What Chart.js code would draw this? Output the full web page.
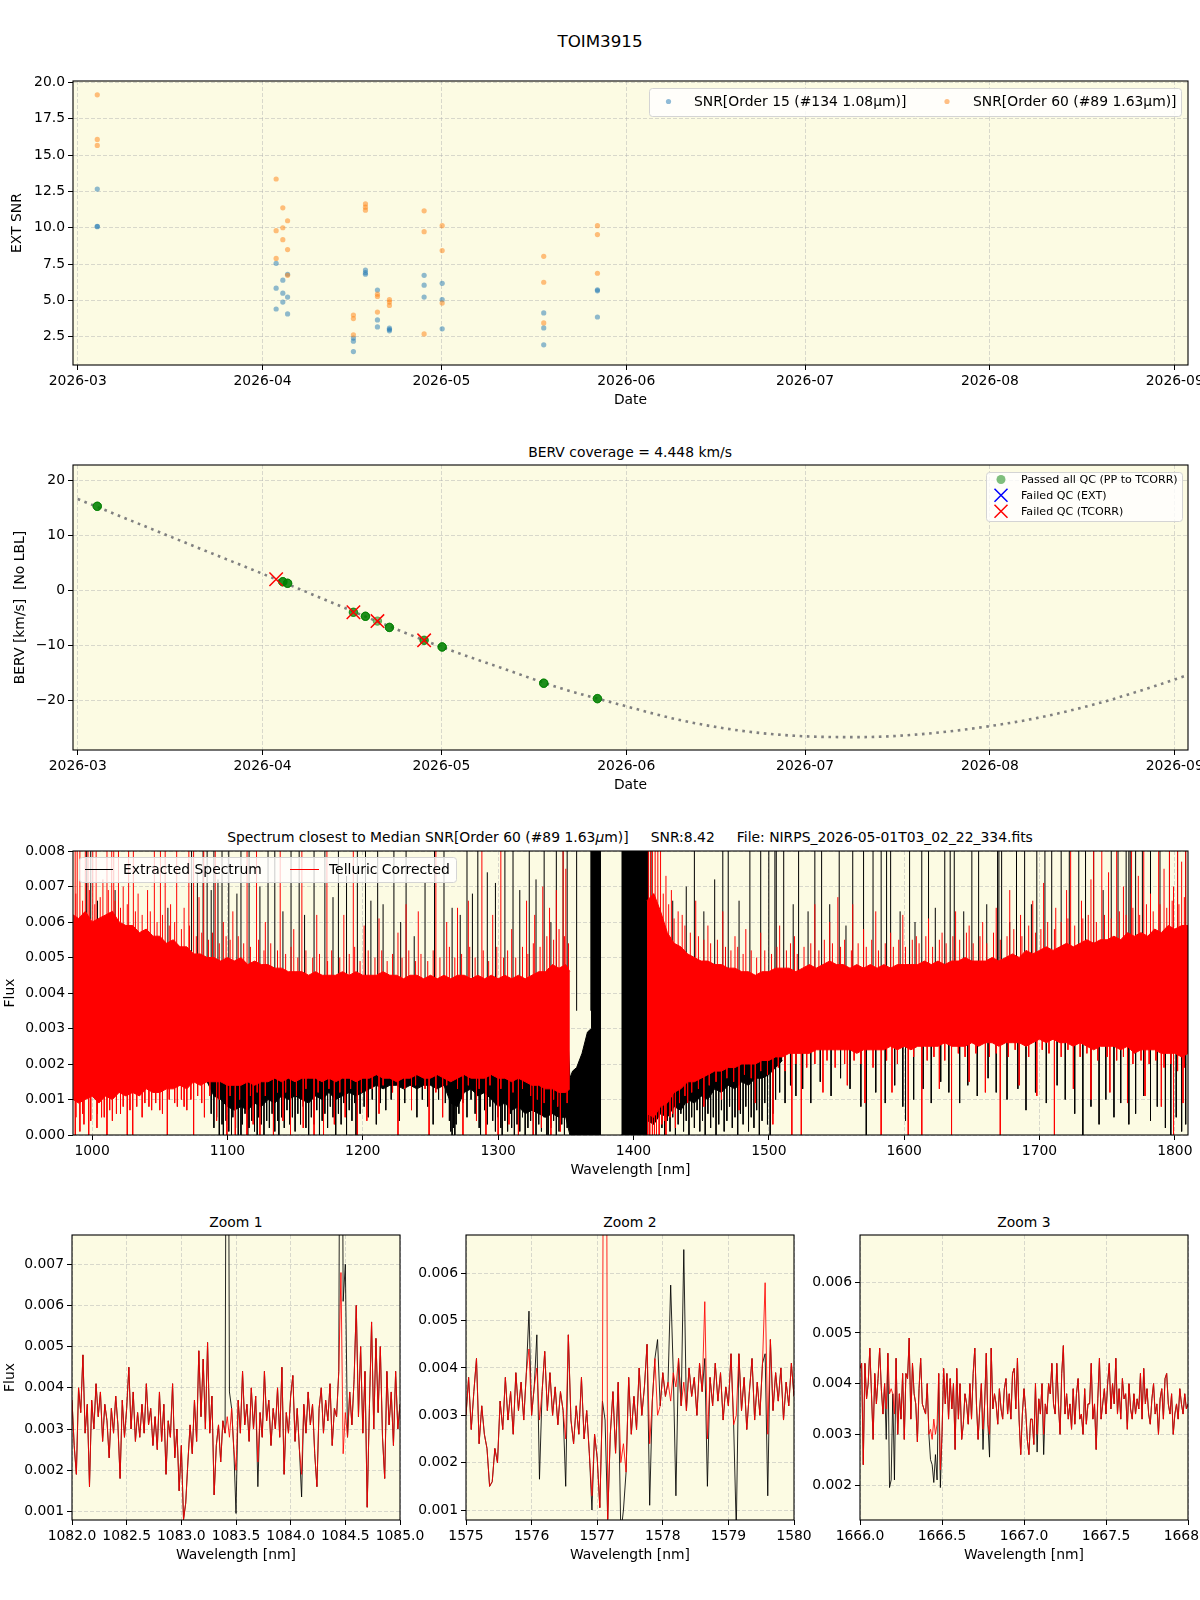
<!DOCTYPE html>
<html lang="en">
<head>
    <meta charset="UTF-8">
    <title>TOIM3915</title>
    <script src="https://cdn.jsdelivr.net/npm/chart.js"></script>
    <style>
        body { margin: 0; background: #ffffff; font-family: 'DejaVu Sans', sans-serif; }
        #page { position: relative; width: 1200px; height: 1600px; overflow: hidden; }
        #page canvas { position: absolute; }
        .label { position: absolute; transform: translate(-50%, -50%); white-space: pre; font-size: 13.9px; color: #000; }
    </style>
</head>
<body>
<div id="page">
    <div class="label" style="left:600px; top:41px; font-size:16.7px;">TOIM3915</div>
    <div class="label" style="left:630px; top:452px;">BERV coverage = 4.448 km/s</div>
    <div class="label" style="left:630px; top:837px;">Spectrum closest to Median SNR[Order 60 (#89 1.63<i>μ</i>m)]     SNR:8.42     File: NIRPS_2026-05-01T03_02_22_334.fits</div>
    <div class="label" style="left:236px; top:1222px;">Zoom 1</div>
    <div class="label" style="left:630px; top:1222px;">Zoom 2</div>
    <div class="label" style="left:1024px; top:1222px;">Zoom 3</div>
</div>

<script>
    // ---- observation nights (3 exposures each) ----
    const monthTicks = ['2026-03', '2026-04', '2026-05', '2026-06', '2026-07', '2026-08', '2026-09'];
    const dateRange = ['2026-02-28T05:00', '2026-09-03T05:15'];

    const nightDates = ['2026-03-04T06:43', '2026-04-03T06:43', '2026-04-04T09:36', '2026-04-05T04:48',
        '2026-04-16T05:46', '2026-04-18T06:14', '2026-04-20T06:29', '2026-04-22T06:43',
        '2026-04-28T02:24', '2026-05-01T03:02', '2026-05-18T03:50', '2026-05-27T04:00'];
    const snrOrder15 = [[12.66, 10.07, 10.1], [7.55, 5.84, 4.41], [6.39, 5.5, 4.89], [6.8, 5.23, 4.07],
        [2.41, 2.2, 1.48], [7.09, 6.91, 6.8], [5.71, 3.66, 3.18], [3.09, 3.0, 2.91],
        [6.73, 6.05, 5.23], [6.18, 5.05, 3.05], [4.14, 3.11, 1.95], [5.73, 5.66, 3.86]];
    const snrOrder60 = [[19.14, 16.07, 15.66], [13.35, 9.8, 7.89], [11.37, 10.0, 9.18], [10.48, 8.5, 6.73],
        [4.0, 3.75, 2.64], [11.64, 11.41, 11.21], [5.43, 5.27, 4.2], [5.05, 4.89, 4.66],
        [11.16, 9.73, 2.7], [10.14, 8.43, 4.82], [8.03, 6.25, 3.45], [10.14, 9.53, 6.87]];
    const bervNight = [15.27, 2.0, 1.56, 1.27, -4.0, -4.73, -5.6, -6.75, -9.1, -10.3, -16.9, -19.7];
    const passedPerNight = [3, 0, 3, 3, 2, 3, 1, 3, 2, 3, 3, 3];
    const tcorrFailedNight = [0, 1, 0, 0, 1, 0, 1, 0, 1, 0, 0, 0];

    const bervCurveDates = ['2026-03-01', '2026-03-11', '2026-03-21', '2026-04-01', '2026-04-11', '2026-04-21',
        '2026-05-01', '2026-05-11', '2026-05-21', '2026-05-31', '2026-06-10', '2026-06-20', '2026-06-30',
        '2026-07-10', '2026-07-20', '2026-07-30', '2026-08-09', '2026-08-19', '2026-08-29', '2026-09-04'];
    const bervCurveValues = [16.6, 12.2, 7.8, 3.0, -1.5, -6.0, -10.3, -14.1, -17.8, -20.8, -23.6, -25.5, -26.5,
        -26.7, -26.2, -25.0, -23.2, -20.6, -17.3, -15.1];

    const snrYTicks = [2.5, 5, 7.5, 10, 12.5, 15, 17.5, 20];
    const bervYTicks = [-20, -10, 0, 10, 20];

    // ---- full spectrum, flux in units of 1e-3 ----
    const specXTicks = [1000, 1100, 1200, 1300, 1400, 1500, 1600, 1700, 1800];
    const specYTicks = [0, 1, 2, 3, 4, 5, 6, 7, 8];

    // [wavelength, lower edge, upper edge] of the dense telluric-corrected band
    const redBand = [[986,1.0,6.2],[990,0.9,6.1],[995,1.0,6.3],[1000,1.1,6.0],[1005,0.9,6.1],[1010,1.1,6.2],
        [1015,1.0,6.3],[1020,1.2,6.0],[1025,1.1,5.9],[1030,1.2,5.9],[1035,1.1,5.7],[1040,1.3,5.8],[1045,1.2,5.6],
        [1050,1.2,5.6],[1055,1.3,5.4],[1060,1.3,5.5],[1065,1.4,5.3],[1070,1.3,5.3],[1075,1.5,5.1],[1080,1.4,5.1],
        [1085,1.5,5.0],[1090,1.5,5.0],[1095,1.5,4.9],[1100,1.4,5.0],[1105,1.4,4.9],[1110,1.4,5.0],[1115,1.5,4.8],
        [1120,1.4,4.9],[1125,1.5,4.8],[1130,1.5,4.8],[1135,1.6,4.7],[1140,1.5,4.7],[1145,1.6,4.6],[1150,1.5,4.6],
        [1155,1.6,4.6],[1160,1.6,4.5],[1165,1.6,4.6],[1170,1.5,4.5],[1175,1.6,4.5],[1180,1.5,4.5],[1185,1.6,4.6],
        [1190,1.6,4.5],[1195,1.5,4.6],[1200,1.6,4.5],[1205,1.6,4.5],[1210,1.7,4.5],[1215,1.6,4.6],[1220,1.6,4.5],
        [1225,1.5,4.5],[1230,1.6,4.4],[1235,1.6,4.5],[1240,1.7,4.5],[1245,1.6,4.4],[1250,1.6,4.5],[1255,1.7,4.4],
        [1260,1.6,4.5],[1265,1.5,4.4],[1270,1.6,4.5],[1275,1.7,4.5],[1280,1.6,4.4],[1285,1.6,4.5],[1290,1.6,4.4],
        [1295,1.7,4.5],[1300,1.6,4.4],[1305,1.6,4.5],[1310,1.5,4.4],[1315,1.6,4.5],[1320,1.5,4.4],[1325,1.4,4.5],
        [1330,1.4,4.6],[1335,1.3,4.6],[1340,1.3,4.8],[1345,1.2,4.7],[1350,1.2,4.8],[1353,1.3,4.6],
        [1380,null,null],
        [1410,0.6,6.6],[1415,0.5,6.8],[1420,0.8,6.3],[1425,0.9,5.7],[1430,1.2,5.4],[1435,1.3,5.3],[1440,1.5,5.1],
        [1445,1.5,5.0],[1450,1.6,4.9],[1455,1.7,4.9],[1460,1.8,4.8],[1465,1.8,4.8],[1470,1.9,4.7],[1475,1.9,4.7],
        [1480,2.0,4.6],[1485,2.0,4.6],[1490,2.0,4.5],[1495,2.1,4.6],[1500,2.1,4.6],[1505,2.2,4.7],[1510,2.2,4.7],
        [1515,2.3,4.7],[1520,2.3,4.6],[1525,2.3,4.7],[1530,2.3,4.8],[1535,2.4,4.7],[1540,2.4,4.8],[1545,2.4,4.9],
        [1550,2.4,4.8],[1555,2.4,4.8],[1560,2.4,4.7],[1565,2.3,4.8],[1570,2.4,4.7],[1575,2.4,4.8],[1580,2.4,4.7],
        [1585,2.4,4.8],[1590,2.5,4.7],[1595,2.4,4.8],[1600,2.5,4.8],[1605,2.4,4.8],[1610,2.5,4.8],[1615,2.5,4.9],
        [1620,2.5,4.8],[1625,2.5,4.9],[1630,2.6,4.8],[1635,2.5,4.9],[1640,2.5,4.9],[1645,2.5,5.0],[1650,2.6,4.9],
        [1655,2.5,4.9],[1660,2.6,4.9],[1665,2.6,5.0],[1670,2.5,4.9],[1675,2.6,5.0],[1680,2.6,5.1],[1685,2.6,5.0],
        [1690,2.5,5.2],[1695,2.6,5.1],[1700,2.7,5.2],[1705,2.6,5.3],[1710,2.7,5.2],[1715,2.6,5.3],[1720,2.6,5.4],
        [1725,2.5,5.3],[1730,2.6,5.4],[1735,2.5,5.5],[1740,2.4,5.4],[1745,2.5,5.5],[1750,2.5,5.5],[1755,2.5,5.6],
        [1760,2.4,5.5],[1765,2.5,5.7],[1770,2.3,5.6],[1775,2.4,5.7],[1780,2.4,5.6],[1785,2.4,5.8],[1790,2.3,5.7],
        [1795,2.3,5.9],[1800,2.3,5.8],[1805,2.2,5.9],[1810,2.3,5.9]];

    // [wavelength, lower edge, upper edge] of the extracted spectrum where it leaves the red band
    const blackBand = [[1085,1.5,4.0],[1090,1.1,4.0],[1095,1.0,4.0],[1100,0.8,4.0],[1105,0.7,4.0],[1110,0.8,4.0],
        [1115,0.7,4.0],[1120,0.9,4.0],[1125,0.8,4.0],[1130,1.0,4.0],[1135,0.9,4.0],[1140,1.1,4.0],[1145,1.0,4.0],
        [1150,1.1,4.0],[1155,1.0,4.0],[1160,0.9,4.0],[1165,1.1,4.0],[1170,1.0,4.0],[1175,1.2,4.0],[1180,1.0,4.0],
        [1185,1.1,4.0],[1190,1.2,4.0],[1195,1.1,4.0],[1200,1.2,4.0],[1205,1.3,4.0],[1210,1.4,4.0],[1215,1.3,4.0],
        [1220,1.4,4.0],[1225,1.4,4.0],[1230,1.3,4.0],[1235,1.4,4.0],[1240,1.3,4.0],[1245,1.4,4.0],[1250,1.4,4.0],
        [1255,1.3,4.0],[1260,1.4,4.0],[1265,0.9,4.0],[1270,0.8,4.0],[1275,1.2,4.0],[1280,1.3,4.0],[1285,1.1,4.0],
        [1290,1.2,4.0],[1295,1.0,4.0],[1300,0.8,4.0],[1305,0.9,4.0],[1310,0.7,4.0],[1315,0.8,4.0],[1320,0.6,4.0],
        [1325,0.7,4.0],[1330,0.6,4.0],[1335,0.5,4.0],[1340,0.6,4.0],[1345,0.5,4.0],[1350,0.5,4.0],
        [1353,0.0,1.6],[1355,0.0,1.8],[1358,0.0,1.9],[1362,0.0,2.3],[1366,0.0,2.9],[1368.9,0.0,3.0],
        [1369,0,9],[1376,0,9],
        [1383,null,null],
        [1391,0,9],[1405,0,9],[1410,0,9],[1410.5,0.4,4.0],[1415,0.3,4.0],[1420,0.6,4.0],[1425,0.5,4.0],
        [1430,0.8,4.0],[1435,0.7,4.0],[1440,1.0,4.0],[1445,0.9,4.0],[1450,1.1,4.0],[1455,1.0,4.0],[1460,1.3,4.0],
        [1465,1.2,4.0],[1470,1.4,4.0],[1475,1.3,4.0],[1480,1.5,4.0],[1485,1.4,4.0],[1490,1.6,4.0],[1495,1.6,4.0],
        [1500,1.7,4.0],[1505,1.9,4.0],[1510,2.1,4.0]];

    // single lines sticking out of the bands: [wavelength, end flux]
    const blackUp = [[996,9],[999,9],[1004,6.6],[1017,6.9],[1056,6.4],[1073.5,9],[1077.8,7.4],[1082,9],[1085,9],
        [1088,6.9],[1090,9],[1093,7.2],[1096,9],[1101,9],[1107,6.8],[1110,9],[1116,9],[1124,7.0],[1130,9],[1135,9],
        [1141,6.3],[1147,9],[1153,9],[1157,6.2],[1164,9],[1172,9],[1178,6.7],[1182,9],[1188,7.3],[1196,9],[1202,9],
        [1206,6.6],[1211,9],[1215,6.5],[1223,9],[1228,6.0],[1232,9],[1238,5.6],[1246,7.1],[1253,9],[1260,9],
        [1266,6.4],[1272,6.2],[1277,9],[1281,6.8],[1285,9],[1292,7.4],[1298,7.1],[1305,9],[1311,9],[1316,6.9],
        [1323,9],[1328,7.2],[1334,9],[1339,6.0],[1343,9],[1348,9],[1351,9],[1358,9],[1368.5,9],
        [1411,9],[1413,9],[1429,6.6],[1439,7.0],[1445,9],[1452,6.3],[1460,7.2],[1466,9],[1470,9],[1478,6.6],
        [1486,9],[1494,9],[1500,9],[1504.5,9],[1505.5,9],[1511,9],[1518,6.5],[1522,9],[1529,6.3],[1534,9],
        [1539,9],[1545,6.5],[1552,9],[1557,5.9],[1562,9],[1570,9],[1577,9],[1583,9],[1587,9],[1590,9],[1597,6.3],
        [1604,9],[1608,6.0],[1613,9],[1618,9],[1623,6.4],[1630,9],[1634,9],[1637,9],[1644,6.3],[1650,9],[1655,9],
        [1661,6.5],[1669,9],[1670,9],[1672,9],[1678,6.0],[1683,9],[1689,9],[1694,6.5],[1698,9],[1704,9],[1709,9],
        [1716,9],[1722,9],[1729,9],[1734,9],[1740,9],[1747,6.9],[1753,9],[1758,9],[1764,9],[1766,9],[1767,9],
        [1771,9],[1776,9],[1782,9],[1789,9],[1796,9],[1802,9],[1808,9]];
    const blackDown = [[1088,0.6],[1090,0.2],[1092,0.5],[1094,0.0],[1096,0.3],[1097,0],[1099,0.4],[1101,0.1],
        [1103,0],[1104,0.5],[1106,0.2],[1108,0.0],[1110,0],[1111,0.3],[1113,0.6],[1115,0],[1116,0.2],[1118,0.4],
        [1120,0.1],[1122,0],[1123,0.5],[1125,0.3],[1127,0.0],[1129,0.4],[1131,0.2],[1133,0.6],[1135,0.1],
        [1137,0.4],[1138,0],[1140,0.5],[1142,0.2],[1144,0.7],[1146,0.3],[1148,0.5],[1150,0.1],[1152,0.6],
        [1154,0.3],[1156,0.8],[1158,0.2],[1160,0],[1162,0.5],[1164,0.3],[1166,0.7],[1168,0],[1170,0.4],
        [1172,0.6],[1174,0.2],[1176,0.8],[1178,0.5],[1180,0],[1182,0.6],[1184,0.3],[1186,0.9],[1188,0],
        [1190,0.7],[1192,0.4],[1194,0.9],[1195,0],[1198,0.6],[1201,0.8],[1204,0.5],[1207,1.0],[1210,0.3],
        [1213,0.9],[1217,0.7],[1221,1.0],[1227,0.4],[1231,0.9],[1236,1.1],[1240,0.5],[1244,1.0],[1248,0.8],
        [1252,0.3],[1256,1.0],[1261,0.9],[1264,0.4],[1265,0.1],[1266,0],[1267,0.2],[1268,0],[1269,0.3],
        [1271,0.6],[1274,0.9],[1277,0.5],[1280,1.0],[1283,0.6],[1286,0.2],[1287,0],[1290,0.7],[1292,0.3],
        [1294,0.8],[1296,0.4],[1298,0.1],[1300,0.5],[1302,0.2],[1303,0],[1305,0.4],[1307,0.1],[1309,0.6],
        [1310,0.2],[1312,0],[1314,0.3],[1316,0.1],[1318,0.5],[1320,0],[1322,0.2],[1324,0.4],[1326,0.0],
        [1328,0],[1330,0.3],[1332,0.1],[1334,0.5],[1336,0.0],[1337,0],[1339,0.2],[1341,0.4],[1343,0],
        [1345,0.1],[1347,0.3],[1349,0],[1351,0.2],
        [1421,0.2],[1423,0],[1425,0.4],[1427,0.1],[1429,0.5],[1431,0],[1433,0.3],[1435,0.6],[1437,0.1],
        [1439,0.4],[1441,0],[1443,0.5],[1445,0.2],[1447,0.7],[1449,0.1],[1451,0.4],[1453,0],[1455,0.6],
        [1457,0.2],[1459,0.5],[1461,0],[1463,0.3],[1465,0.7],[1467,0.1],[1469,0.4],[1471,0.8],[1473,0.2],
        [1475,0.5],[1477,0],[1479,0.6],[1481,0.3],[1483,0.8],[1485,0.1],[1487,0.5],[1489,0.2],[1491,0.7],
        [1493,0.0],[1495,0.4],[1497,0.9],[1499,0.3],[1501,0],[1503,0.6],[1505,1.0],[1508,1.2],[1512,0.9],
        [1516,1.4],[1520,1.1],
        [1525,1.3],[1531,0.9],[1538,1.5],[1546,1.1],[1553,1.6],[1560,1.3],[1568,0.8],[1572,0.0],[1579,1.2],
        [1586,0.9],[1593,1.4],[1599,0.8],[1601,0.4],[1607,1.0],[1614,1.3],[1620,0.9],[1627,1.5],[1633,1.2],
        [1641,0.9],[1647,1.4],[1654,1.1],[1662,1.6],[1668,1.2],[1676,1.0],[1684,1.3],[1690,0.7],[1697,1.2],
        [1705,0.9],[1713,1.4],[1719,1.0],[1726,0.6],[1732,0.0],[1738,0.8],[1744,0.3],[1749,1.0],[1755,0.5],
        [1760,0.9],[1766,0.3],[1771,0.6],[1777,1.1],[1782,0.4],[1787,0.8],[1793,0.2],[1797,0.0],[1801,0.5],
        [1805,0.1],[1808,0.3]];
    const redUp = [[987.5,9],[989,9],[991,9],[995,9],[997,9],[1000.5,9],[1003,9],[1008,7.2],[1011,9],[1014.5,9],
        [1016,9],[1019.5,9],[1023,7.0],[1027,9],[1030.5,9],[1034,6.8],[1041,6.9],[1046,9],[1050.5,9],[1054,9],
        [1058,6.5],[1062.5,9],[1068,6.4],[1071.5,9],[1075,9],[1079,6.7],[1082.5,9],[1091,9],[1097,6.0],[1104,6.3],
        [1114.5,9],[1121.5,9],[1128,6.0],[1139,9],[1149,5.8],[1155,9],[1166,6.2],[1173.5,9],[1186,6.2],[1193,9],
        [1201,5.9],[1212,6.1],[1226,5.7],[1232,6.5],[1241,6.3],[1254,9],[1262,6.0],[1270,6.4],[1278,6.6],[1288,9],
        [1296,6.2],[1302,9],[1310,5.8],[1321,6.6],[1327,6.2],[1333,7.0],[1338,6.4],[1343,6.9],[1348,9],[1350,7.5],
        [1411,9],[1412.5,9],[1414,9],[1416,9],[1418,9],[1420,9],[1424,7.3],[1428,6.9],[1436,6.2],[1446,6.6],
        [1455,5.9],[1466,6.3],[1475,5.6],[1483,5.8],[1494,5.7],[1508,5.9],[1519,5.6],[1534,6.5],[1545,6.0],
        [1551,6.7],[1562,6.5],[1570,5.8],[1579,6.3],[1590,5.7],[1599,6.2],[1609,5.6],[1618,6.1],[1628,5.7],
        [1638,6.3],[1648,5.9],[1658,6.0],[1668,6.4],[1678,6.9],[1686,6.2],[1695,6.6],[1703,7.1],[1712,6.4],
        [1720,6.9],[1723,9],[1731,6.6],[1738,7.2],[1740,9],[1746,9],[1751,7.4],[1757,9],[1762,7.0],[1768,9],
        [1773,7.3],[1777,9],[1782,6.8],[1788,9],[1792,7.5],[1796,9],[1799,7.0],[1802,9],[1805,7.7],[1808,9]];
    const redDown = [[987.6,0],[991,0.1],[994,0.3],[997.5,0],[1003.6,0.2],[1007,0.5],[1011,0],[1015,0.4],
        [1021,0.6],[1026,0],[1030,0],[1037,0.5],[1044,0.7],[1052,0.6],[1055.6,0],[1063,0.8],[1070,0.7],[1075,0],
        [1083,0.5],[1092,0.4],[1099.6,0],[1105.8,0],[1114.4,0],[1119,0.3],[1124,0],[1134,0],[1141,0.4],[1146.6,0],
        [1156,0.2],[1164,0],[1171,0],[1179,0.3],[1187,0.5],[1196,0],[1203,0.4],[1212,0.6],[1226,0],[1236,0.7],
        [1249,0],[1259,0.5],[1274,0],[1284,0.4],[1291,0],[1300,0],[1308,0.3],[1315,0],[1326,0],[1332,0.2],
        [1339,0],[1346,0.1],
        [1410.5,0],[1412,0],[1414,0],[1415.5,0],[1417,0],[1419,0],[1421,0.3],[1424,0],[1427,0.5],[1431,0.2],
        [1440,0.9],[1452,0.8],[1465,1.0],[1478,0.7],[1490,0.9],[1503,0.3],[1517,0],[1524,0],[1540,1.2],
        [1558,1.4],[1571,0.9],[1583,0],[1591,1.2],[1603,0],[1613,0],[1626,1.3],[1635,0],[1648,1.5],[1660,1.2],
        [1671,0],[1685,1.4],[1698,1.1],[1711,0],[1725,1.3],[1738,1.0],[1752,1.2],[1765,0.9],[1778,1.1],
        [1790,0.8],[1799,0],[1806,0.9]];
    // short hairs on the edges of the red band
    const redFringeUp = [[988,6.8],[993,6.6],[998,6.9],[1002,6.5],[1006,6.7],[1012,6.9],[1017,6.6],[1021,6.4],
        [1026,6.5],[1032,6.3],[1037,6.2],[1043,6.3],[1048,6.0],[1052,6.2],[1057,5.9],[1061,6.0],[1066,5.8],
        [1072,5.9],[1077,5.6],[1081,5.7],[1086,5.5],[1089,5.7],[1094,5.4],[1099,5.6],[1102,5.5],[1108,5.6],
        [1112,5.4],[1117,5.3],[1123,5.5],[1127,5.2],[1132,5.4],[1137,5.2],[1143,5.1],[1147,5.3],[1152,5.0],
        [1158,5.2],[1163,5.0],[1168,5.1],[1174,4.9],[1177,5.2],[1183,5.0],[1190,5.1],[1194,5.3],[1198,4.9],
        [1204,5.2],[1209,5.0],[1214,5.2],[1218,4.9],[1222,5.1],[1229,5.0],[1234,5.2],[1239,4.9],[1243,5.1],
        [1248,4.9],[1252,5.2],[1257,5.0],[1264,5.3],[1268,5.0],[1273,5.1],[1279,5.3],[1283,5.0],[1289,5.2],
        [1293,4.9],[1299,5.3],[1304,5.0],[1307,5.2],[1313,5.0],[1318,5.3],[1322,5.1],[1326,5.4],[1331,5.3],
        [1336,5.6],[1341,5.5],[1345,5.8],[1349,5.6],[1352,5.4],
        [1422,6.8],[1426,6.5],[1430,6.1],[1433,6.3],[1438,5.9],[1442,5.7],[1448,5.6],[1452,5.5],[1457,5.4],
        [1462,5.5],[1468,5.3],[1472,5.2],[1477,5.3],[1481,5.1],[1487,5.2],[1491,5.0],[1497,5.2],[1502,5.1],
        [1506,5.3],[1513,5.2],[1516,5.4],[1521,5.1],[1526,5.3],[1531,5.4],[1537,5.2],[1541,5.5],[1547,5.4],
        [1553,5.3],[1556,5.5],[1561,5.2],[1566,5.4],[1572,5.3],[1576,5.5],[1581,5.2],[1586,5.4],[1592,5.3],
        [1596,5.5],[1601,5.3],[1606,5.5],[1611,5.4],[1616,5.6],[1621,5.3],[1626,5.5],[1631,5.4],[1636,5.6],
        [1641,5.5],[1646,5.7],[1651,5.4],[1656,5.6],[1661,5.4],[1666,5.7],[1671,5.5],[1676,5.6],[1681,5.8],
        [1687,5.6],[1692,5.9],[1697,5.7],[1701,5.8],[1706,6.0],[1711,5.8],[1716,6.0],[1721,6.1],[1726,5.9],
        [1732,6.1],[1736,6.2],[1742,6.0],[1748,6.2],[1753,6.1],[1759,6.3],[1764,6.2],[1769,6.4],[1774,6.2],
        [1779,6.5],[1784,6.3],[1789,6.5],[1794,6.4],[1798,6.6],[1803,6.5],[1807,6.7]];
    const redFringeDown = [[988,0.5],[993,0.6],[999,0.4],[1004,0.6],[1009,0.5],[1013,0.7],[1018,0.6],[1023,0.8],
        [1028,0.7],[1033,0.8],[1039,0.9],[1042,0.8],[1047,0.9],[1050,0.7],[1057,1.0],[1061,0.9],[1066,1.0],
        [1068,0.8],[1073,1.0],[1078,1.1],[1081,0.9],[1087,1.1],[1094,1.0],[1102,1.1],[1109,1.0],[1117,1.1],
        [1122,1.2],[1128,1.1],[1137,1.2],[1143,1.2],[1151,1.1],[1158,1.3],[1167,1.2],[1175,1.3],[1183,1.2],
        [1191,1.3],[1199,1.2],[1207,1.3],[1215,1.4],[1222,1.2],[1231,1.3],[1239,1.4],[1246,1.3],[1254,1.2],
        [1262,1.4],[1270,1.3],[1278,1.4],[1286,1.3],[1294,1.4],[1302,1.3],[1311,1.2],[1318,1.3],[1324,1.1],
        [1329,1.0],[1334,0.9],[1341,1.0],[1344,0.8],[1351,0.9],
        [1423,0.4],[1429,0.6],[1434,0.9],[1438,1.1],[1443,1.2],[1448,1.3],[1456,1.4],[1461,1.5],[1469,1.6],
        [1474,1.5],[1482,1.7],[1487,1.6],[1494,1.8],[1499,1.7],[1507,1.9],[1512,1.8],[1520,2.0],[1528,1.9],
        [1534,2.0],[1543,2.1],[1549,1.9],[1556,2.0],[1563,2.1],[1568,2.0],[1577,1.9],[1587,2.1],[1595,2.0],
        [1607,2.2],[1617,2.1],[1622,2.2],[1630,2.1],[1640,2.3],[1645,2.2],[1653,2.3],[1663,2.2],[1668,2.3],
        [1677,2.2],[1682,2.4],[1692,2.2],[1702,2.4],[1707,2.3],[1716,2.2],[1721,2.4],[1730,2.2],[1735,2.3],
        [1743,2.1],[1750,2.2],[1757,2.1],[1762,2.2],[1769,2.0],[1775,2.1],[1781,2.0],[1786,2.1],[1792,1.9],
        [1797,2.0],[1802,1.8],[1807,1.9]];

    // ---- zoom windows, flux in units of 1e-3, evenly sampled ----
    const zoom1Start = 1082.0, zoom1Step = 0.02;
    const zoom1Red = [3.7,2.6,1.9,4.0,3.4,4.8,2.9,3.6,1.6,3.7, 3.0,4.1,3.3,3.9,2.7,3.6,3.2,2.3,3.5,2.9,
        3.8,3.1,1.8,3.7,2.8,3.5,4.5,3.0,3.9,2.7, 3.4,2.8,3.6,2.9,4.1,3.1,3.5,2.6,3.3,2.5,
        3.9,2.7,3.6,1.9,3.2,2.8,4.1,2.3,3.0,1.5, 2.6,0.8,1.2,2.2,3.1,2.4,3.7,2.7,4.9,3.3,
        4.7,3.0,5.1,2.9,3.8,1.4,2.6,3.1,2.2,3.2, 2.9,3.3,2.8,3.5,2.5,2.0,3.7,2.9,4.4,3.1,
        3.6,2.7,4.0,3.0,3.8,2.2,3.4,2.8,4.4,3.2, 3.7,2.6,3.5,3.0,4.0,2.8,4.5,1.9,3.4,2.9,
        3.8,4.3,2.7,3.5,2.5,1.9,3.6,2.9,3.9,3.1, 3.6,2.4,1.6,3.5,4.0,2.9,3.7,3.2,4.1,2.6,
        3.5,3.3,4.4,6.8,2.4,3.4,2.8,3.9,3.1,4.2, 6.0,3.3,5.0,2.9,4.4,1.1,3.5,5.6,3.0,5.2,
        3.4,5.0,2.8,1.8,4.4,3.1,3.9,2.6,4.4,3.0, 3.6];
    const zoom1Black = [3.7,2.6,1.9,4.0,3.4,4.8,2.9,3.6,1.6,3.7, 3.0,4.1,3.3,3.9,2.7,3.6,3.2,2.3,3.5,2.9,
        3.8,3.1,1.8,3.7,2.8,3.5,4.5,3.0,3.9,2.7, 3.4,2.8,3.6,2.9,4.1,3.1,3.5,2.6,3.3,2.5,
        3.9,2.7,3.6,1.9,3.2,2.8,4.1,2.3,3.0,1.5, 2.6,0.8,1.2,2.2,3.1,2.4,3.7,2.7,4.9,3.3,
        4.7,3.0,5.1,2.9,3.8,1.4,2.6,3.1,2.2,3.2, 2.9,20,3.9,3.5,2.5,0.95,3.7,2.9,4.4,3.1,
        3.6,2.7,4.0,3.0,3.8,1.6,3.4,2.8,4.4,3.2, 3.7,2.6,3.5,3.0,4.0,2.8,4.5,1.9,3.4,2.9,
        3.8,4.3,2.7,3.5,2.5,1.35,3.6,2.9,3.9,3.1, 3.6,2.4,1.6,3.5,4.0,2.9,3.7,3.2,4.1,2.6,
        3.5,3.3,4.4,20,6.1,7.0,2.8,3.9,3.1,4.2, 6.0,3.3,5.0,2.9,4.4,1.1,3.5,5.6,3.0,5.2,
        3.4,5.0,2.8,1.8,4.4,3.1,3.9,2.6,4.4,3.0, 3.6];

    const zoom2Start = 1575.0, zoom2Step = 0.04;
    const zoom2Red = [3.0,3.8,2.7,3.5,4.2,2.4,3.2,2.6,2.3,1.5, 1.6,2.3,2.0,3.3,2.7,3.8,2.9,3.5,2.6,3.9,
        3.1,3.7,2.9,3.9,4.4,3.0,3.6,4.0,2.9,3.5, 4.35,3.1,3.9,3.0,3.6,2.8,3.5,3.1,2.5,4.7,
        2.9,2.4,3.2,2.6,3.8,2.5,3.1,2.2,1.3,2.6, 2.1,1.05,3.3,20,0.8,2.6,3.5,2.2,3.7,2.0,
        2.4,1.8,3.8,2.6,3.4,2.7,4.0,3.0,3.6,4.5, 2.4,3.3,4.2,3.0,3.2,3.9,3.4,3.7,3.3,3.9,
        3.6,4.2,3.2,3.7,3.1,4.0,3.4,3.8,3.0,4.1, 3.5,5.4,2.5,3.8,3.2,4.1,3.3,3.9,2.9,3.6,
        3.2,4.3,2.8,3.0,4.3,3.1,3.8,2.7,3.5,4.2, 2.9,3.7,3.0,4.1,5.8,2.6,4.6,3.1,3.9,3.3,
        4.0,2.9,3.7,3.2,4.1,3.4];
    const zoom2Black = [3.0,3.8,2.7,3.5,4.2,2.4,3.2,2.6,2.3,1.5, 1.6,2.3,2.0,3.3,2.7,3.8,2.9,3.5,2.6,3.9,
        3.1,3.7,2.9,3.9,5.2,3.0,3.6,4.7,1.65,3.5, 4.35,3.1,3.9,3.0,3.6,2.8,3.5,3.1,1.5,4.7,
        2.9,2.4,3.2,2.6,3.8,2.5,3.1,2.2,1.0,2.6, 2.1,1.05,3.3,2.9,0.8,2.6,3.5,2.2,3.7,0.5,
        1.0,1.8,3.8,2.6,3.4,2.7,4.0,3.0,3.6,4.5, 1.1,3.3,4.2,4.6,3.2,3.9,3.4,3.7,5.75,3.9,
        1.3,4.2,3.2,6.5,3.1,4.0,3.4,3.8,3.0,4.1, 3.5,4.2,1.5,3.8,3.2,4.1,3.3,3.9,2.9,3.6,
        3.2,4.3,2.8,0.6,4.3,3.1,3.8,2.7,3.5,4.2, 2.9,3.7,3.0,4.1,4.3,1.3,4.6,3.1,3.9,3.3,
        4.0,2.9,3.7,3.2,4.1,3.4];

    const zoom3Start = 1666.0, zoom3Step = 0.01;
    const zoom3Red = [4.3,4.4,2.4,4.4,3.7,4.0,4.7,3.8,2.9,4.2, 3.6,4.1,4.7,3.9,3.4,4.0,3.5,4.6,3.8,3.9,
        3.8,3.4,4.5,3.0,3.8,3.3,4.2,2.9,4.2,4.1, 4.9,3.3,4.4,3.8,3.6,2.85,3.9,4.5,3.6,3.5,
        3.4,4.0,3.0,3.1,2.9,3.3,3.0,3.2,4.2,2.3, 3.0,4.3,3.6,4.2,3.3,4.1,3.5,4.0,2.7,4.3,
        3.3,4.0,2.9,3.2,3.8,3.6,3.2,4.0,3.3,4.2, 4.7,3.6,2.9,3.5,4.0,3.1,3.6,4.6,3.2,3.0,
        4.7,3.5,3.8,3.6,3.2,3.9,3.5,3.3,3.9,4.1, 3.4,3.8,3.3,4.2,4.3,3.5,4.5,3.3,2.6,3.4,
        3.9,3.5,2.9,2.6,3.3,3.3,2.8,4.0,3.0,3.7, 3.4,4.0,3.0,3.6,3.4,4.0,3.8,4.4,3.6,3.4,
        4.4,3.6,3.0,4.2,4.75,3.4,3.8,3.3,3.6,3.1, 3.9,3.2,3.8,4.1,3.3,3.4,3.0,3.9,3.2,3.6,
        3.6,4.4,3.3,3.6,2.7,3.7,4.5,3.3,3.6,3.9, 3.4,4.0,4.4,3.5,4.0,3.6,4.5,3.4,3.9,3.3,
        4.1,3.7,3.8,3.1,4.0,3.5,3.3,3.8,3.4,3.7, 3.5,4.2,3.3,4.3,3.6,3.9,3.4,3.2,3.7,4.0,
        3.4,3.6,3.0,3.7,3.9,3.3,4.1,4.2,3.6,3.4, 3.8,3.0,3.4,3.6,3.3,3.9,3.6,3.4,3.8,3.5,
        3.6];
    const zoom3Black = [4.3,4.4,2.4,4.4,3.7,4.0,4.7,3.8,2.9,4.2, 3.6,4.1,4.7,3.9,3.4,4.0,2.9,4.6,1.95,2.1,
        3.8,2.1,4.5,3.0,3.8,3.3,4.2,2.9,4.2,4.1, 4.9,3.3,4.4,3.8,3.6,2.85,3.9,4.5,3.6,3.5,
        3.4,4.0,3.0,2.5,2.4,2.05,2.6,2.1,4.2,1.95, 3.0,4.3,3.6,4.2,3.3,4.1,3.5,4.0,2.7,4.3,
        3.3,4.0,2.9,3.2,3.8,3.6,3.2,4.0,3.3,4.2, 4.7,3.6,2.9,3.5,4.0,2.7,3.6,4.6,3.2,2.55,
        4.7,3.5,3.8,3.6,3.2,3.9,3.5,3.3,3.9,4.1, 3.4,3.8,3.3,4.2,4.3,3.5,4.5,3.3,2.6,3.4,
        3.9,3.5,2.9,2.6,3.3,3.3,2.8,4.0,2.65,3.7, 3.4,4.0,2.6,3.6,3.4,4.0,3.8,4.4,3.6,3.4,
        4.4,3.6,3.0,4.2,4.75,3.4,3.8,3.3,3.6,3.1, 3.9,3.2,3.8,4.1,3.3,3.4,3.0,3.9,3.2,3.6,
        3.6,4.4,3.3,3.6,2.7,3.7,4.5,3.3,3.6,3.9, 3.4,4.0,4.4,3.5,4.0,3.6,4.5,3.4,3.9,3.3,
        4.1,3.7,3.8,3.1,4.0,3.5,3.3,3.8,3.4,3.7, 3.5,4.2,3.3,4.3,3.6,3.9,3.4,3.2,3.7,4.0,
        3.4,3.6,3.0,3.7,3.9,3.3,4.1,4.2,3.6,3.4, 3.8,3.0,3.4,3.6,3.3,3.9,3.6,3.4,3.8,3.5,
        3.6];

    // ---- style ----
    const CREAM = 'rgb(252,251,227)';
    const GRID = 'rgba(176,176,176,0.6)';
    Chart.defaults.font.family = "'DejaVu Sans', sans-serif";
    Chart.defaults.font.size = 13.9;
    Chart.defaults.color = '#000';

    function toDay(s) {
        let iso = s;
        if (iso.length === 7) iso += '-01';
        if (iso.length === 10) iso += 'T00:00';
        return Date.parse(iso + ':00Z') / 86400000;
    }
    const monthDays = monthTicks.map(toDay);
    const fmtMonth = v => { const i = monthDays.indexOf(v); return i >= 0 ? monthTicks[i] : ''; };
    const fmtMinus = v => (v < 0 ? '\u2212' + Math.abs(v) : String(v));
    const fmtFlux = v => (v / 1000).toFixed(3);

    // axes background and the black box around them
    const mplFrame = {
        id: 'mplFrame',
        beforeDraw(chart) {
            const { ctx, chartArea: a } = chart;
            ctx.save();
            ctx.fillStyle = CREAM;
            ctx.fillRect(a.left, a.top, a.right - a.left, a.bottom - a.top);
            ctx.restore();
        },
        afterDraw(chart) {
            const { ctx, chartArea: a } = chart;
            ctx.save();
            ctx.strokeStyle = '#000';
            ctx.lineWidth = 1.1;
            ctx.strokeRect(a.left, a.top, a.right - a.left, a.bottom - a.top);
            ctx.restore();
        }
    };

    // matplotlib-like legend box drawn inside the axes
    const mplLegend = {
        id: 'mplLegend',
        afterDatasetsDraw(chart) {
            const spec = chart.canvas.$legend;
            if (!spec) return;
            const ctx = chart.ctx, off = chart.canvas.$off, ds = chart.data.datasets;
            const [x0, y0, x1, y1] = spec.box;
            ctx.save();
            ctx.beginPath();
            ctx.roundRect(x0 - off.x + 0.5, y0 - off.y + 0.5, x1 - x0, y1 - y0, 3);
            ctx.fillStyle = 'rgba(255,255,255,0.8)';
            ctx.fill();
            ctx.strokeStyle = '#d4d4d4';
            ctx.lineWidth = 1;
            ctx.stroke();
            ctx.font = spec.size + "px 'DejaVu Sans'";
            ctx.textBaseline = 'middle';
            spec.items.forEach(it => {
                const d = ds[it.ds];
                const mx = it.mx - off.x, my = it.my - off.y;
                ctx.beginPath();
                if (it.kind === 'dot') {
                    ctx.arc(mx, my, it.r, 0, Math.PI * 2);
                    ctx.fillStyle = d.backgroundColor;
                    ctx.fill();
                } else if (it.kind === 'x') {
                    ctx.moveTo(mx - it.r, my - it.r); ctx.lineTo(mx + it.r, my + it.r);
                    ctx.moveTo(mx - it.r, my + it.r); ctx.lineTo(mx + it.r, my - it.r);
                    ctx.strokeStyle = d.borderColor;
                    ctx.lineWidth = 1.5;
                    ctx.stroke();
                } else {
                    ctx.moveTo(it.x1 - off.x, my); ctx.lineTo(it.x2 - off.x, my);
                    ctx.strokeStyle = d.borderColor;
                    ctx.lineWidth = 1;
                    ctx.stroke();
                }
                ctx.fillStyle = '#000';
                ctx.fillText(d.label, it.tx - off.x, my + 0.5);
            });
            ctx.restore();
        }
    };
    Chart.register(mplFrame, mplLegend);

    function axis(o) {
        return {
            type: 'linear', min: o.min, max: o.max, bounds: 'data', offset: false,
            afterBuildTicks: s => { s.ticks = o.ticks.map(v => ({ value: v })); },
            ticks: { callback: o.fmt, padding: 3, maxRotation: 0, minRotation: 0, autoSkip: false, color: '#000' },
            grid: { color: GRID, lineWidth: 0.8, drawTicks: true, tickLength: 5, tickColor: '#000', tickWidth: 1, offset: false },
            border: { display: false, dash: [4, 2] },
            title: o.title ? { display: true, text: o.title, color: '#000', padding: o.pad } : { display: false }
        };
    }

    // cv: canvas rectangle on the page, area: wanted plot box on the page
    const page = document.getElementById('page');
    function panel(cv, area, cfg, legend) {
        const c = document.createElement('canvas');
        c.width = cv.w; c.height = cv.h;
        c.style.left = cv.x + 'px'; c.style.top = cv.y + 'px';
        c.$off = { x: cv.x, y: cv.y };
        c.$legend = legend;
        page.appendChild(c);
        const o = cfg.options;
        o.responsive = false;
        o.animation = false;
        o.devicePixelRatio = 1;
        o.layout = { padding: { left: 0, top: area.t - cv.y, right: cv.x + cv.w - area.r, bottom: 0 } };
        o.scales.x.afterFit = s => { s.height = cv.y + cv.h - area.b; s.paddingLeft = 0; s.paddingRight = 0; };
        o.scales.y.afterFit = s => { s.width = area.l - cv.x; s.paddingTop = 0; s.paddingBottom = 0; };
        o.plugins = { legend: { display: false }, tooltip: { enabled: false } };
        return new Chart(c, cfg);
    }

    const dateAxis = axis({ min: toDay(dateRange[0]), max: toDay(dateRange[1]), ticks: monthDays, fmt: fmtMonth,
        title: 'Date', pad: { top: 0, bottom: 11.6 } });

    // ---- panel 1: SNR ----
    const snrPoints = vals => nightDates.flatMap((d, i) => vals[i].map(v => ({ x: toDay(d), y: v })));
    panel({ x: 0, y: 60, w: 1200, h: 360 }, { l: 73, t: 81, r: 1188, b: 365 }, {
        type: 'scatter',
        data: { datasets: [
            { label: 'SNR[Order 15 (#134 1.08μm)]', data: snrPoints(snrOrder15), backgroundColor: 'rgba(31,119,180,0.5)',
              borderWidth: 0, pointRadius: 2.6, order: 2 },
            { label: 'SNR[Order 60 (#89 1.63μm)]', data: snrPoints(snrOrder60), backgroundColor: 'rgba(255,127,14,0.5)',
              borderWidth: 0, pointRadius: 2.6, order: 1 }
        ] },
        options: { scales: {
            x: dateAxis,
            y: axis({ min: 0.56, max: 20.09, ticks: snrYTicks, fmt: v => v.toFixed(1), title: 'EXT SNR', pad: { top: 9.2, bottom: 0 } })
        } }
    }, { box: [649, 88, 1181, 116], size: 13.9, items: [
        { ds: 0, kind: 'dot', r: 2.6, mx: 668.5, my: 101.5, tx: 694 },
        { ds: 1, kind: 'dot', r: 2.6, mx: 947, my: 101.5, tx: 973 }
    ] });

    // ---- panel 2: BERV ----
    const passedPts = nightDates.flatMap((d, i) =>
        Array.from({ length: passedPerNight[i] }, () => ({ x: toDay(d), y: bervNight[i] })));
    const tcorrPts = nightDates.map((d, i) => ({ x: toDay(d), y: bervNight[i] })).filter((p, i) => tcorrFailedNight[i]);
    panel({ x: 0, y: 440, w: 1200, h: 365 }, { l: 73, t: 465, r: 1188, b: 750 }, {
        type: 'scatter',
        data: { datasets: [
            { label: 'BERV', data: bervCurveDates.map((d, i) => ({ x: toDay(d), y: bervCurveValues[i] })),
              showLine: true, pointRadius: 0, borderColor: '#808080', borderWidth: 2.6, borderDash: [2.6, 4.6],
              cubicInterpolationMode: 'monotone', clip: 0, order: 4 },
            { label: 'Passed all QC (PP to TCORR)', data: passedPts, backgroundColor: 'rgba(0,128,0,0.5)',
              borderColor: 'rgba(0,128,0,0.5)', borderWidth: 1, pointRadius: 4.2, order: 3 },
            { label: 'Failed QC (EXT)', data: [], borderColor: 'blue', pointStyle: 'crossRot', pointRadius: 9.5,
              borderWidth: 1.5, order: 2 },
            { label: 'Failed QC (TCORR)', data: tcorrPts, borderColor: 'red', backgroundColor: 'red', pointStyle: 'crossRot',
              pointRadius: 9.5, borderWidth: 1.5, order: 1 }
        ] },
        options: { scales: {
            x: dateAxis,
            y: axis({ min: -29.04, max: 22.78, ticks: bervYTicks, fmt: fmtMinus, title: 'BERV [km/s]  [No LBL]', pad: { top: 11.6, bottom: 0 } })
        } }
    }, { box: [986, 472, 1182, 521], size: 11.1, items: [
        { ds: 1, kind: 'dot', r: 4.5, mx: 1001, my: 479.5, tx: 1021 },
        { ds: 2, kind: 'x', r: 6.5, mx: 1001, my: 495.3, tx: 1021 },
        { ds: 3, kind: 'x', r: 6.5, mx: 1001, my: 511.3, tx: 1021 }
    ] });

    // ---- panel 3: full spectrum ----
    const edge = (band, k) => band.map(r => ({ x: r[0], y: r[k] }));
    const sticks = (list, base) => list.flatMap(r => [{ x: r[0], y: base }, { x: r[0], y: r[1] }, { x: r[0], y: null }]);
    const lineDs = (extra) => Object.assign({ pointRadius: 0, borderWidth: 1, spanGaps: false, clip: 0, tension: 0, fill: false }, extra);
    panel({ x: 0, y: 840, w: 1200, h: 350 }, { l: 73, t: 851, r: 1188, b: 1135 }, {
        type: 'line',
        data: { datasets: [
            lineDs({ label: 'extracted low', data: edge(blackBand, 1), borderColor: '#000', order: 10 }),
            lineDs({ label: 'Extracted Spectrum', data: edge(blackBand, 2), borderColor: '#000', backgroundColor: '#000', fill: '-1', order: 9 }),
            lineDs({ label: 'extracted up', data: sticks(blackUp, 3.5), borderColor: '#000', order: 8 }),
            lineDs({ label: 'extracted down', data: sticks(blackDown, 2.8), borderColor: '#000', order: 7 }),
            lineDs({ label: 'corrected low', data: edge(redBand, 1), borderColor: '#ff0000', order: 6 }),
            lineDs({ label: 'Telluric Corrected', data: edge(redBand, 2), borderColor: '#ff0000', backgroundColor: '#ff0000', fill: '-1', order: 5 }),
            lineDs({ label: 'corrected fringe up', data: sticks(redFringeUp, 3.5), borderColor: '#ff0000', order: 4 }),
            lineDs({ label: 'corrected fringe down', data: sticks(redFringeDown, 3.0), borderColor: '#ff0000', order: 3 }),
            lineDs({ label: 'corrected up', data: sticks(redUp, 3.5), borderColor: '#ff0000', order: 2 }),
            lineDs({ label: 'corrected down', data: sticks(redDown, 3.0), borderColor: '#ff0000', order: 1 })
        ] },
        options: { scales: {
            x: axis({ min: 985.9, max: 1809.7, ticks: specXTicks, fmt: v => String(v), title: 'Wavelength [nm]', pad: { top: 0, bottom: 11.6 } }),
            y: axis({ min: 0, max: 8, ticks: specYTicks, fmt: fmtFlux, title: 'Flux', pad: { top: 1.9, bottom: 0 } })
        } }
    }, { box: [79, 857, 456, 882], size: 13.9, items: [
        { ds: 1, kind: 'line', x1: 85, x2: 113, mx: 99, my: 869.5, tx: 123 },
        { ds: 5, kind: 'line', x1: 290, x2: 319, mx: 304, my: 869.5, tx: 329 }
    ] });

    // ---- zoom panels ----
    const series = (start, step, vals) => vals.map((v, i) => ({ x: start + i * step, y: v }));
    function zoomPanel(cv, area, start, step, red, black, xr, xTicks, xFmt, yr, yTicks, yTitle) {
        return panel(cv, area, {
            type: 'line',
            data: { datasets: [
                { label: 'Extracted Spectrum', data: series(start, step, black), borderColor: 'rgba(0,0,0,0.85)',
                  borderWidth: 1, pointRadius: 0, clip: 0, order: 2 },
                { label: 'Telluric Corrected', data: series(start, step, red), borderColor: 'rgba(255,0,0,0.85)',
                  borderWidth: 1, pointRadius: 0, clip: 0, order: 1 }
            ] },
            options: { scales: {
                x: axis({ min: xr[0], max: xr[1], ticks: xTicks, fmt: xFmt, title: 'Wavelength [nm]', pad: { top: 0, bottom: 11.6 } }),
                y: axis({ min: yr[0], max: yr[1], ticks: yTicks, fmt: fmtFlux, title: yTitle, pad: { top: 2.1, bottom: 0 } })
            } }
        });
    }
    zoomPanel({ x: 0, y: 1200, w: 430, h: 375 }, { l: 72, t: 1235, r: 400, b: 1520 },
        zoom1Start, zoom1Step, zoom1Red, zoom1Black, [1082, 1085], [1082, 1082.5, 1083, 1083.5, 1084, 1084.5, 1085],
        v => v.toFixed(1), [0.791, 7.711], [1, 2, 3, 4, 5, 6, 7], 'Flux');
    zoomPanel({ x: 400, y: 1200, w: 420, h: 375 }, { l: 466, t: 1235, r: 794, b: 1520 },
        zoom2Start, zoom2Step, zoom2Red, zoom2Black, [1575, 1580], [1575, 1576, 1577, 1578, 1579, 1580],
        v => String(v), [0.789, 6.808], [1, 2, 3, 4, 5, 6], null);
    zoomPanel({ x: 800, y: 1200, w: 400, h: 375 }, { l: 860, t: 1235, r: 1188, b: 1520 },
        zoom3Start, zoom3Step, zoom3Red, zoom3Black, [1666, 1668], [1666, 1666.5, 1667, 1667.5, 1668],
        v => v.toFixed(1), [1.31, 6.932], [2, 3, 4, 5, 6], null);
</script>
</body>
</html>
